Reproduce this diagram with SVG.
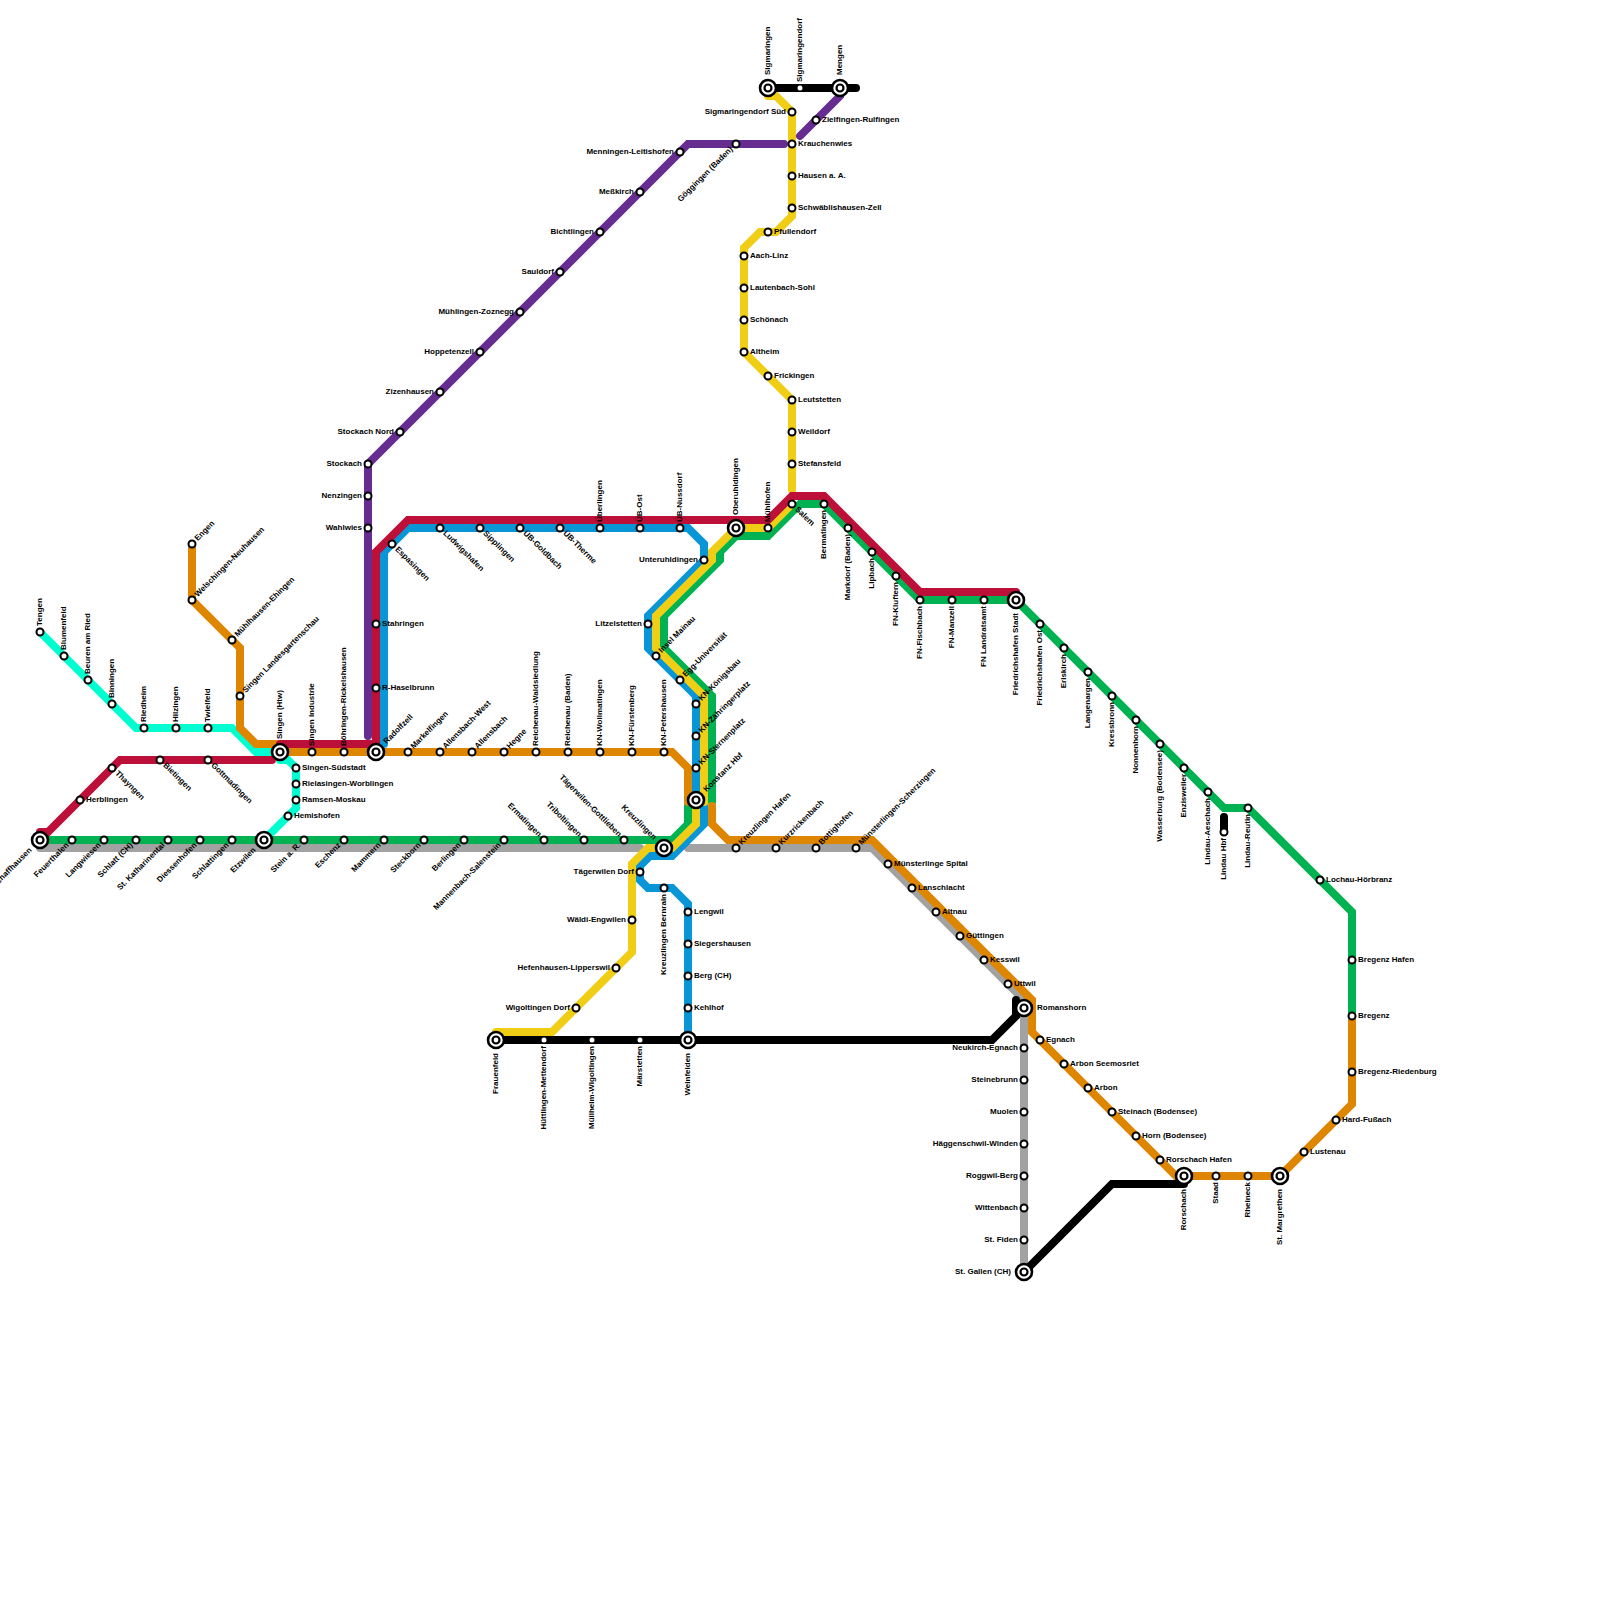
<svg xmlns="http://www.w3.org/2000/svg" width="1600" height="1600" viewBox="0 0 1600 1600">
<style>
.bg{fill:#fff}
.ln{fill:none;stroke-width:8;stroke-linecap:round;stroke-linejoin:miter}
.red{stroke:#bd1038}.grn{stroke:#00b251}.gry{stroke:#a2a2a2}.aq{stroke:#00ffd0}.org{stroke:#df8600}.blu{stroke:#0896d7}.yel{stroke:#f0ce15}.pur{stroke:#662c90}.blk{stroke:#000}
text{font-family:"Liberation Sans",Arial,sans-serif;font-size:8px;font-weight:700;fill:#000}
.w,.s,.sw,.nw{text-anchor:end}
.n,.s{transform:rotate(-90deg)}
.ne,.sw{transform:rotate(-45deg)}
.se,.nw{transform:rotate(45deg)}
</style>
<defs>
<g id="st"><circle r="3.5" fill="#fff" stroke="#000" stroke-width="2"/></g>
<g id="sm"><circle r="2.5" fill="#fff"/></g>
<g id="ic"><circle r="8" fill="#fff" stroke="#000" stroke-width="2.6"/><circle r="3.5" fill="#fff" stroke="#000" stroke-width="2.2"/></g>
</defs>
<rect class="bg" width="1600" height="1600"/>
<g id="connectors">
<path class="ln gry" d="M40,848H640M688,848H872L1024,1000V1272"/>
<path class="ln blk" d="M768,88H856M496,1040H992L1016,1016V1000M1024,1272L1112,1184H1184M1224,817V832"/>
<path class="ln aq" d="M40,632L136,728H232L256,752H280M280,760H288L296,768V808L264,840"/>
<path class="ln pur" d="M368,736V464L688,144H784M800,136L840,96"/>
<path class="ln grn" d="M40,840H672L688,824V806M712,802V696L664,648V616L720,560V552L736,536H768L800,504H824L920,600H1016L1224,808H1248L1352,912V1016"/>
<path class="ln org" d="M192,544V600L240,648V728L256,744H276M280,752H672L688,768V802M712,806V824L728,840H872L1032,1000V1032L1176,1176H1280L1352,1104V1016"/>
<path class="ln blu" d="M384,744V552L408,528H688L704,544V560L648,616V648L696,696V800M704,806V824L672,856H650L640,866V880L648,888H672L688,904V1040"/>
<path class="ln yel" d="M768,96H776L792,112V216L776,232H760L744,248V352L792,400V490M792,504L768,528H736L712,552V560L656,616V648L704,696V802M696,800V824L672,848H648L632,864V952L552,1032H496"/>
<path class="ln red" d="M40,832H48L120,760H272M280,744H376V552L408,520H768L792,496H824L920,592H1016"/>
</g>
<g id="stations">
<g id="n-tengen" transform="translate(40,632)"><use href="#st"/><text class="n" x="6" y="2">Tengen</text></g>
<g id="n-blumenfeld" transform="translate(64,656)"><use href="#st"/><text class="n" x="6" y="2">Blumenfeld</text></g>
<g id="n-beuren" transform="translate(88,680)"><use href="#st"/><text class="n" x="6" y="2">Beuren am Ried</text></g>
<g id="n-binningen" transform="translate(112,704)"><use href="#st"/><text class="n" x="6" y="2">Binningen</text></g>
<g id="n-riedheim" transform="translate(144,728)"><use href="#st"/><text class="n" x="6" y="2">Riedheim</text></g>
<g id="n-hilzingen" transform="translate(176,728)"><use href="#st"/><text class="n" x="6" y="2">Hilzingen</text></g>
<g id="n-twielfeld" transform="translate(208,728)"><use href="#st"/><text class="n" x="6" y="2">Twielfeld</text></g>
<g id="n-engen" transform="translate(192,544)"><use href="#st"/><text class="ne" x="6" y="2">Engen</text></g>
<g id="n-welschingen" transform="translate(192,600)"><use href="#st"/><text class="ne" x="6" y="2">Welschingen-Neuhausen</text></g>
<g id="n-muehlhausen" transform="translate(232,640)"><use href="#st"/><text class="ne" x="6" y="2">Mühlhausen-Ehingen</text></g>
<g id="n-singen-lgs" transform="translate(240,696)"><use href="#st"/><text class="ne" x="6" y="2">Singen Landesgartenschau</text></g>
<g id="n-singen" transform="translate(280,752)"><use href="#ic"/><text class="n" x="13" y="2">Singen (Htw)</text></g>
<g id="n-singen-ind" transform="translate(312,752)"><use href="#st"/><text class="n" x="6" y="2">Singen Industrie</text></g>
<g id="n-boehringen" transform="translate(344,752)"><use href="#st"/><text class="n" x="6" y="2">Böhringen-Rickelshausen</text></g>
<g id="n-radolfzell" transform="translate(376,752)"><use href="#ic"/><text class="ne" x="13" y="2">Radolfzell</text></g>
<g id="n-markelfingen" transform="translate(408,752)"><use href="#st"/><text class="ne" x="6" y="2">Markelfingen</text></g>
<g id="n-allensbach-w" transform="translate(440,752)"><use href="#st"/><text class="ne" x="6" y="2">Allensbach-West</text></g>
<g id="n-allensbach" transform="translate(472,752)"><use href="#st"/><text class="ne" x="6" y="2">Allensbach</text></g>
<g id="n-hegne" transform="translate(504,752)"><use href="#st"/><text class="ne" x="6" y="2">Hegne</text></g>
<g id="n-reichenau-w" transform="translate(536,752)"><use href="#st"/><text class="n" x="6" y="2">Reichenau-Waldsiedlung</text></g>
<g id="n-reichenau" transform="translate(568,752)"><use href="#st"/><text class="n" x="6" y="2">Reichenau (Baden)</text></g>
<g id="n-kn-woll" transform="translate(600,752)"><use href="#st"/><text class="n" x="6" y="2">KN-Wollmatingen</text></g>
<g id="n-kn-fuerst" transform="translate(632,752)"><use href="#st"/><text class="n" x="6" y="2">KN-Fürstenberg</text></g>
<g id="n-kn-peter" transform="translate(664,752)"><use href="#st"/><text class="n" x="6" y="2">KN-Petershausen</text></g>
<g id="n-thayngen" transform="translate(112,768)"><use href="#st"/><text class="se" x="6" y="2">Thayngen</text></g>
<g id="n-herblingen" transform="translate(80,800)"><use href="#st"/><text class="e" x="6" y="2">Herblingen</text></g>
<g id="n-bietingen" transform="translate(160,760)"><use href="#st"/><text class="se" x="6" y="2">Bietingen</text></g>
<g id="n-gottmadingen" transform="translate(208,760)"><use href="#st"/><text class="se" x="6" y="2">Gottmadingen</text></g>
<g id="n-suedstadt" transform="translate(296,768)"><use href="#st"/><text class="e" x="6" y="2">Singen-Südstadt</text></g>
<g id="n-rielasingen" transform="translate(296,784)"><use href="#st"/><text class="e" x="6" y="2">Rielasingen-Worblingen</text></g>
<g id="n-ramsen" transform="translate(296,800)"><use href="#st"/><text class="e" x="6" y="2">Ramsen-Moskau</text></g>
<g id="n-hemishofen" transform="translate(288,816)"><use href="#st"/><text class="e" x="6" y="2">Hemishofen</text></g>
<g id="n-schaffhausen" transform="translate(40,840)"><use href="#ic"/><text class="sw" x="-13" y="2">Schaffhausen</text></g>
<g id="n-feuerthalen" transform="translate(72,840)"><use href="#st"/><text class="sw" x="-6" y="2">Feuerthalen</text></g>
<g id="n-langwiesen" transform="translate(104,840)"><use href="#st"/><text class="sw" x="-6" y="2">Langwiesen</text></g>
<g id="n-schlatt" transform="translate(136,840)"><use href="#st"/><text class="sw" x="-6" y="2">Schlatt (CH)</text></g>
<g id="n-katharinental" transform="translate(168,840)"><use href="#st"/><text class="sw" x="-6" y="2">St. Katharinental</text></g>
<g id="n-diessenhofen" transform="translate(200,840)"><use href="#st"/><text class="sw" x="-6" y="2">Diessenhofen</text></g>
<g id="n-schlattingen" transform="translate(232,840)"><use href="#st"/><text class="sw" x="-6" y="2">Schlattingen</text></g>
<g id="n-etzwilen" transform="translate(264,840)"><use href="#ic"/><text class="sw" x="-13" y="2">Etzwilen</text></g>
<g id="n-stein" transform="translate(304,840)"><use href="#st"/><text class="sw" x="-6" y="2">Stein a. R.</text></g>
<g id="n-eschenz" transform="translate(344,840)"><use href="#st"/><text class="sw" x="-6" y="2">Eschenz</text></g>
<g id="n-mammern" transform="translate(384,840)"><use href="#st"/><text class="sw" x="-6" y="2">Mammern</text></g>
<g id="n-steckborn" transform="translate(424,840)"><use href="#st"/><text class="sw" x="-6" y="2">Steckborn</text></g>
<g id="n-berlingen" transform="translate(464,840)"><use href="#st"/><text class="sw" x="-6" y="2">Berlingen</text></g>
<g id="n-mannenbach" transform="translate(504,840)"><use href="#st"/><text class="sw" x="-6" y="2">Mannenbach-Salenstein</text></g>
<g id="n-ermatingen" transform="translate(544,840)"><use href="#st"/><text class="nw" x="-6" y="2">Ermatingen</text></g>
<g id="n-triboltingen" transform="translate(584,840)"><use href="#st"/><text class="nw" x="-6" y="2">Triboltingen</text></g>
<g id="n-taegerwilen-g" transform="translate(624,840)"><use href="#st"/><text class="nw" x="-6" y="2">Tägerwilen-Gottlieben</text></g>
<g id="n-kreuzlingen" transform="translate(664,848)"><use href="#ic"/><text class="nw" x="-13" y="2">Kreuzlingen</text></g>
<g id="n-taegerwilen-d" transform="translate(640,872)"><use href="#st"/><text class="w" x="-6" y="2">Tägerwilen Dorf</text></g>
<g id="n-bernrain" transform="translate(664,888)"><use href="#st"/><text class="s" x="-6" y="2">Kreuzlingen Bernrain</text></g>
<g id="n-lengwil" transform="translate(688,912)"><use href="#st"/><text class="e" x="6" y="2">Lengwil</text></g>
<g id="n-siegershausen" transform="translate(688,944)"><use href="#st"/><text class="e" x="6" y="2">Siegershausen</text></g>
<g id="n-berg" transform="translate(688,976)"><use href="#st"/><text class="e" x="6" y="2">Berg (CH)</text></g>
<g id="n-kehlhof" transform="translate(688,1008)"><use href="#st"/><text class="e" x="6" y="2">Kehlhof</text></g>
<g id="n-waeldi" transform="translate(632,920)"><use href="#st"/><text class="w" x="-6" y="2">Wäldi-Engwilen</text></g>
<g id="n-hefenhausen" transform="translate(616,968)"><use href="#st"/><text class="w" x="-6" y="2">Hefenhausen-Lipperswil</text></g>
<g id="n-wigoltingen" transform="translate(576,1008)"><use href="#st"/><text class="w" x="-6" y="2">Wigoltingen Dorf</text></g>
<g id="n-frauenfeld" transform="translate(496,1040)"><use href="#ic"/><text class="s" x="-13" y="2">Frauenfeld</text></g>
<g id="n-huettlingen" transform="translate(544,1040)"><use href="#sm"/><text class="s" x="-6" y="2">Hüttlingen-Mettendorf</text></g>
<g id="n-muellheim" transform="translate(592,1040)"><use href="#sm"/><text class="s" x="-6" y="2">Müllheim-Wigoltingen</text></g>
<g id="n-maerstetten" transform="translate(640,1040)"><use href="#sm"/><text class="s" x="-6" y="2">Märstetten</text></g>
<g id="n-weinfelden" transform="translate(688,1040)"><use href="#ic"/><text class="s" x="-13" y="2">Weinfelden</text></g>
<g id="n-konstanz" transform="translate(696,800)"><use href="#ic"/><text class="ne" x="13" y="2">Konstanz Hbf</text></g>
<g id="n-sternen" transform="translate(696,768)"><use href="#st"/><text class="ne" x="6" y="2">KN-Sternenplatz</text></g>
<g id="n-zaehringer" transform="translate(696,736)"><use href="#st"/><text class="ne" x="6" y="2">KN-Zähringerplatz</text></g>
<g id="n-koenigsbau" transform="translate(696,704)"><use href="#st"/><text class="ne" x="6" y="2">KN-Königsbau</text></g>
<g id="n-egg" transform="translate(680,680)"><use href="#st"/><text class="ne" x="6" y="2">Egg-Universität</text></g>
<g id="n-mainau" transform="translate(656,656)"><use href="#st"/><text class="ne" x="6" y="2">Insel Mainau</text></g>
<g id="n-litzelstetten" transform="translate(648,624)"><use href="#st"/><text class="w" x="-6" y="2">Litzelstetten</text></g>
<g id="n-unteruhldingen" transform="translate(704,560)"><use href="#st"/><text class="w" x="-6" y="2">Unteruhldingen</text></g>
<g id="n-oberuhldingen" transform="translate(736,528)"><use href="#ic"/><text class="n" x="13" y="2">Oberuhldingen</text></g>
<g id="n-muehlhofen" transform="translate(768,528)"><use href="#st"/><text class="n" x="6" y="2">Mühlhofen</text></g>
<g id="n-salem" transform="translate(792,504)"><use href="#st"/><text class="se" x="6" y="2">Salem</text></g>
<g id="n-nussdorf" transform="translate(680,528)"><use href="#st"/><text class="n" x="6" y="2">ÜB-Nussdorf</text></g>
<g id="n-ueb-ost" transform="translate(640,528)"><use href="#st"/><text class="n" x="6" y="2">ÜB-Ost</text></g>
<g id="n-ueberlingen" transform="translate(600,528)"><use href="#st"/><text class="n" x="6" y="2">Überlingen</text></g>
<g id="n-therme" transform="translate(560,528)"><use href="#st"/><text class="se" x="6" y="2">ÜB-Therme</text></g>
<g id="n-goldbach" transform="translate(520,528)"><use href="#st"/><text class="se" x="6" y="2">ÜB-Goldbach</text></g>
<g id="n-sipplingen" transform="translate(480,528)"><use href="#st"/><text class="se" x="6" y="2">Sipplingen</text></g>
<g id="n-ludwigshafen" transform="translate(440,528)"><use href="#st"/><text class="se" x="6" y="2">Ludwigshafen</text></g>
<g id="n-espasingen" transform="translate(392,544)"><use href="#st"/><text class="se" x="6" y="2">Espasingen</text></g>
<g id="n-stahringen" transform="translate(376,624)"><use href="#st"/><text class="e" x="6" y="2">Stahringen</text></g>
<g id="n-haselbrunn" transform="translate(376,688)"><use href="#st"/><text class="e" x="6" y="2">R-Haselbrunn</text></g>
<g id="n-wahlwies" transform="translate(368,528)"><use href="#st"/><text class="w" x="-6" y="2">Wahlwies</text></g>
<g id="n-nenzingen" transform="translate(368,496)"><use href="#st"/><text class="w" x="-6" y="2">Nenzingen</text></g>
<g id="n-stockach" transform="translate(368,464)"><use href="#st"/><text class="w" x="-6" y="2">Stockach</text></g>
<g id="n-stockach-n" transform="translate(400,432)"><use href="#st"/><text class="w" x="-6" y="2">Stockach Nord</text></g>
<g id="n-zizenhausen" transform="translate(440,392)"><use href="#st"/><text class="w" x="-6" y="2">Zizenhausen</text></g>
<g id="n-hoppetenzell" transform="translate(480,352)"><use href="#st"/><text class="w" x="-6" y="2">Hoppetenzell</text></g>
<g id="n-muehlingen" transform="translate(520,312)"><use href="#st"/><text class="w" x="-6" y="2">Mühlingen-Zoznegg</text></g>
<g id="n-sauldorf" transform="translate(560,272)"><use href="#st"/><text class="w" x="-6" y="2">Sauldorf</text></g>
<g id="n-bichtlingen" transform="translate(600,232)"><use href="#st"/><text class="w" x="-6" y="2">Bichtlingen</text></g>
<g id="n-messkirch" transform="translate(640,192)"><use href="#st"/><text class="w" x="-6" y="2">Meßkirch</text></g>
<g id="n-menningen" transform="translate(680,152)"><use href="#st"/><text class="w" x="-6" y="2">Menningen-Leitishofen</text></g>
<g id="n-goeggingen" transform="translate(736,144)"><use href="#st"/><text class="sw" x="-6" y="2">Göggingen (Baden)</text></g>
<g id="n-sigmaringen" transform="translate(768,88)"><use href="#ic"/><text class="n" x="13" y="2">Sigmaringen</text></g>
<g id="n-sigmaringendorf" transform="translate(800,88)"><use href="#sm"/><text class="n" x="6" y="2">Sigmaringendorf</text></g>
<g id="n-mengen" transform="translate(840,88)"><use href="#ic"/><text class="n" x="13" y="2">Mengen</text></g>
<g id="n-sigm-sued" transform="translate(792,112)"><use href="#st"/><text class="w" x="-6" y="2">Sigmaringendorf Süd</text></g>
<g id="n-zielfingen" transform="translate(816,120)"><use href="#st"/><text class="e" x="6" y="2">Zielfingen-Rulfingen</text></g>
<g id="n-krauchenwies" transform="translate(792,144)"><use href="#st"/><text class="e" x="6" y="2">Krauchenwies</text></g>
<g id="n-hausen" transform="translate(792,176)"><use href="#st"/><text class="e" x="6" y="2">Hausen a. A.</text></g>
<g id="n-schwaeblis" transform="translate(792,208)"><use href="#st"/><text class="e" x="6" y="2">Schwäblishausen-Zell</text></g>
<g id="n-pfullendorf" transform="translate(768,232)"><use href="#st"/><text class="e" x="6" y="2">Pfullendorf</text></g>
<g id="n-aach" transform="translate(744,256)"><use href="#st"/><text class="e" x="6" y="2">Aach-Linz</text></g>
<g id="n-lautenbach" transform="translate(744,288)"><use href="#st"/><text class="e" x="6" y="2">Lautenbach-Sohl</text></g>
<g id="n-schoenach" transform="translate(744,320)"><use href="#st"/><text class="e" x="6" y="2">Schönach</text></g>
<g id="n-altheim" transform="translate(744,352)"><use href="#st"/><text class="e" x="6" y="2">Altheim</text></g>
<g id="n-frickingen" transform="translate(768,376)"><use href="#st"/><text class="e" x="6" y="2">Frickingen</text></g>
<g id="n-leutstetten" transform="translate(792,400)"><use href="#st"/><text class="e" x="6" y="2">Leutstetten</text></g>
<g id="n-weildorf" transform="translate(792,432)"><use href="#st"/><text class="e" x="6" y="2">Weildorf</text></g>
<g id="n-stefansfeld" transform="translate(792,464)"><use href="#st"/><text class="e" x="6" y="2">Stefansfeld</text></g>
<g id="n-bermatingen" transform="translate(824,504)"><use href="#st"/><text class="s" x="-6" y="2">Bermatingen</text></g>
<g id="n-markdorf" transform="translate(848,528)"><use href="#st"/><text class="s" x="-6" y="2">Markdorf (Baden)</text></g>
<g id="n-lipbach" transform="translate(872,552)"><use href="#st"/><text class="s" x="-6" y="2">Lipbach</text></g>
<g id="n-kluftern" transform="translate(896,576)"><use href="#st"/><text class="s" x="-6" y="2">FN-Kluftern</text></g>
<g id="n-fischbach" transform="translate(920,600)"><use href="#st"/><text class="s" x="-6" y="2">FN-Fischbach</text></g>
<g id="n-manzell" transform="translate(952,600)"><use href="#st"/><text class="s" x="-6" y="2">FN-Manzell</text></g>
<g id="n-landratsamt" transform="translate(984,600)"><use href="#st"/><text class="s" x="-6" y="2">FN Landratsamt</text></g>
<g id="n-fn-stadt" transform="translate(1016,600)"><use href="#ic"/><text class="s" x="-13" y="2">Friedrichshafen Stadt</text></g>
<g id="n-fn-ost" transform="translate(1040,624)"><use href="#st"/><text class="s" x="-6" y="2">Friedrichshafen Ost</text></g>
<g id="n-eriskirch" transform="translate(1064,648)"><use href="#st"/><text class="s" x="-6" y="2">Eriskirch</text></g>
<g id="n-langenargen" transform="translate(1088,672)"><use href="#st"/><text class="s" x="-6" y="2">Langenargen</text></g>
<g id="n-kressbronn" transform="translate(1112,696)"><use href="#st"/><text class="s" x="-6" y="2">Kressbronn</text></g>
<g id="n-nonnenhorn" transform="translate(1136,720)"><use href="#st"/><text class="s" x="-6" y="2">Nonnenhorn</text></g>
<g id="n-wasserburg" transform="translate(1160,744)"><use href="#st"/><text class="s" x="-6" y="2">Wasserburg (Bodensee)</text></g>
<g id="n-enzisweiler" transform="translate(1184,768)"><use href="#st"/><text class="s" x="-6" y="2">Enzisweiler</text></g>
<g id="n-aeschach" transform="translate(1208,792)"><use href="#st"/><text class="s" x="-6" y="2">Lindau-Aeschach</text></g>
<g id="n-lindau" transform="translate(1224,832)"><use href="#st"/><text class="s" x="-6" y="2">Lindau Hbf</text></g>
<g id="n-reutin" transform="translate(1248,808)"><use href="#st"/><text class="s" x="-6" y="2">Lindau-Reutin</text></g>
<g id="n-lochau" transform="translate(1320,880)"><use href="#st"/><text class="e" x="6" y="2">Lochau-Hörbranz</text></g>
<g id="n-bregenz-h" transform="translate(1352,960)"><use href="#st"/><text class="e" x="6" y="2">Bregenz Hafen</text></g>
<g id="n-bregenz" transform="translate(1352,1016)"><use href="#st"/><text class="e" x="6" y="2">Bregenz</text></g>
<g id="n-riedenburg" transform="translate(1352,1072)"><use href="#st"/><text class="e" x="6" y="2">Bregenz-Riedenburg</text></g>
<g id="n-hard" transform="translate(1336,1120)"><use href="#st"/><text class="e" x="6" y="2">Hard-Fußach</text></g>
<g id="n-lustenau" transform="translate(1304,1152)"><use href="#st"/><text class="e" x="6" y="2">Lustenau</text></g>
<g id="n-margrethen" transform="translate(1280,1176)"><use href="#ic"/><text class="s" x="-13" y="2">St. Margrethen</text></g>
<g id="n-rheineck" transform="translate(1248,1176)"><use href="#st"/><text class="s" x="-6" y="2">Rheineck</text></g>
<g id="n-staad" transform="translate(1216,1176)"><use href="#st"/><text class="s" x="-6" y="2">Staad</text></g>
<g id="n-rorschach" transform="translate(1184,1176)"><use href="#ic"/><text class="s" x="-13" y="2">Rorschach</text></g>
<g id="n-rorschach-h" transform="translate(1160,1160)"><use href="#st"/><text class="e" x="6" y="2">Rorschach Hafen</text></g>
<g id="n-horn" transform="translate(1136,1136)"><use href="#st"/><text class="e" x="6" y="2">Horn (Bodensee)</text></g>
<g id="n-steinach" transform="translate(1112,1112)"><use href="#st"/><text class="e" x="6" y="2">Steinach (Bodensee)</text></g>
<g id="n-arbon" transform="translate(1088,1088)"><use href="#st"/><text class="e" x="6" y="2">Arbon</text></g>
<g id="n-seemosriet" transform="translate(1064,1064)"><use href="#st"/><text class="e" x="6" y="2">Arbon Seemosriet</text></g>
<g id="n-egnach" transform="translate(1040,1040)"><use href="#st"/><text class="e" x="6" y="2">Egnach</text></g>
<g id="n-romanshorn" transform="translate(1024,1008)"><use href="#ic"/><text class="e" x="13" y="2">Romanshorn</text></g>
<g id="n-uttwil" transform="translate(1008,984)"><use href="#st"/><text class="e" x="6" y="2">Uttwil</text></g>
<g id="n-kesswil" transform="translate(984,960)"><use href="#st"/><text class="e" x="6" y="2">Kesswil</text></g>
<g id="n-guettingen" transform="translate(960,936)"><use href="#st"/><text class="e" x="6" y="2">Güttingen</text></g>
<g id="n-altnau" transform="translate(936,912)"><use href="#st"/><text class="e" x="6" y="2">Altnau</text></g>
<g id="n-lanschlacht" transform="translate(912,888)"><use href="#st"/><text class="e" x="6" y="2">Lanschlacht</text></g>
<g id="n-spital" transform="translate(888,864)"><use href="#st"/><text class="e" x="6" y="2">Münsterlinge Spital</text></g>
<g id="n-scherzingen" transform="translate(856,848)"><use href="#st"/><text class="ne" x="6" y="2">Münsterlingen-Scherzingen</text></g>
<g id="n-bottighofen" transform="translate(816,848)"><use href="#st"/><text class="ne" x="6" y="2">Bottighofen</text></g>
<g id="n-kurzrickenbach" transform="translate(776,848)"><use href="#st"/><text class="ne" x="6" y="2">Kurzrickenbach</text></g>
<g id="n-kreuzlingen-h" transform="translate(736,848)"><use href="#st"/><text class="ne" x="6" y="2">Kreuzlingen Hafen</text></g>
<g id="n-neukirch" transform="translate(1024,1048)"><use href="#st"/><text class="w" x="-6" y="2">Neukirch-Egnach</text></g>
<g id="n-steinebrunn" transform="translate(1024,1080)"><use href="#st"/><text class="w" x="-6" y="2">Steinebrunn</text></g>
<g id="n-muolen" transform="translate(1024,1112)"><use href="#st"/><text class="w" x="-6" y="2">Muolen</text></g>
<g id="n-haeggen" transform="translate(1024,1144)"><use href="#st"/><text class="w" x="-6" y="2">Häggenschwil-Winden</text></g>
<g id="n-roggwil" transform="translate(1024,1176)"><use href="#st"/><text class="w" x="-6" y="2">Roggwil-Berg</text></g>
<g id="n-wittenbach" transform="translate(1024,1208)"><use href="#st"/><text class="w" x="-6" y="2">Wittenbach</text></g>
<g id="n-fiden" transform="translate(1024,1240)"><use href="#st"/><text class="w" x="-6" y="2">St. Fiden</text></g>
<g id="n-gallen" transform="translate(1024,1272)"><use href="#ic"/><text class="w" x="-13" y="2">St. Gallen (CH)</text></g>
</g>
</svg>
